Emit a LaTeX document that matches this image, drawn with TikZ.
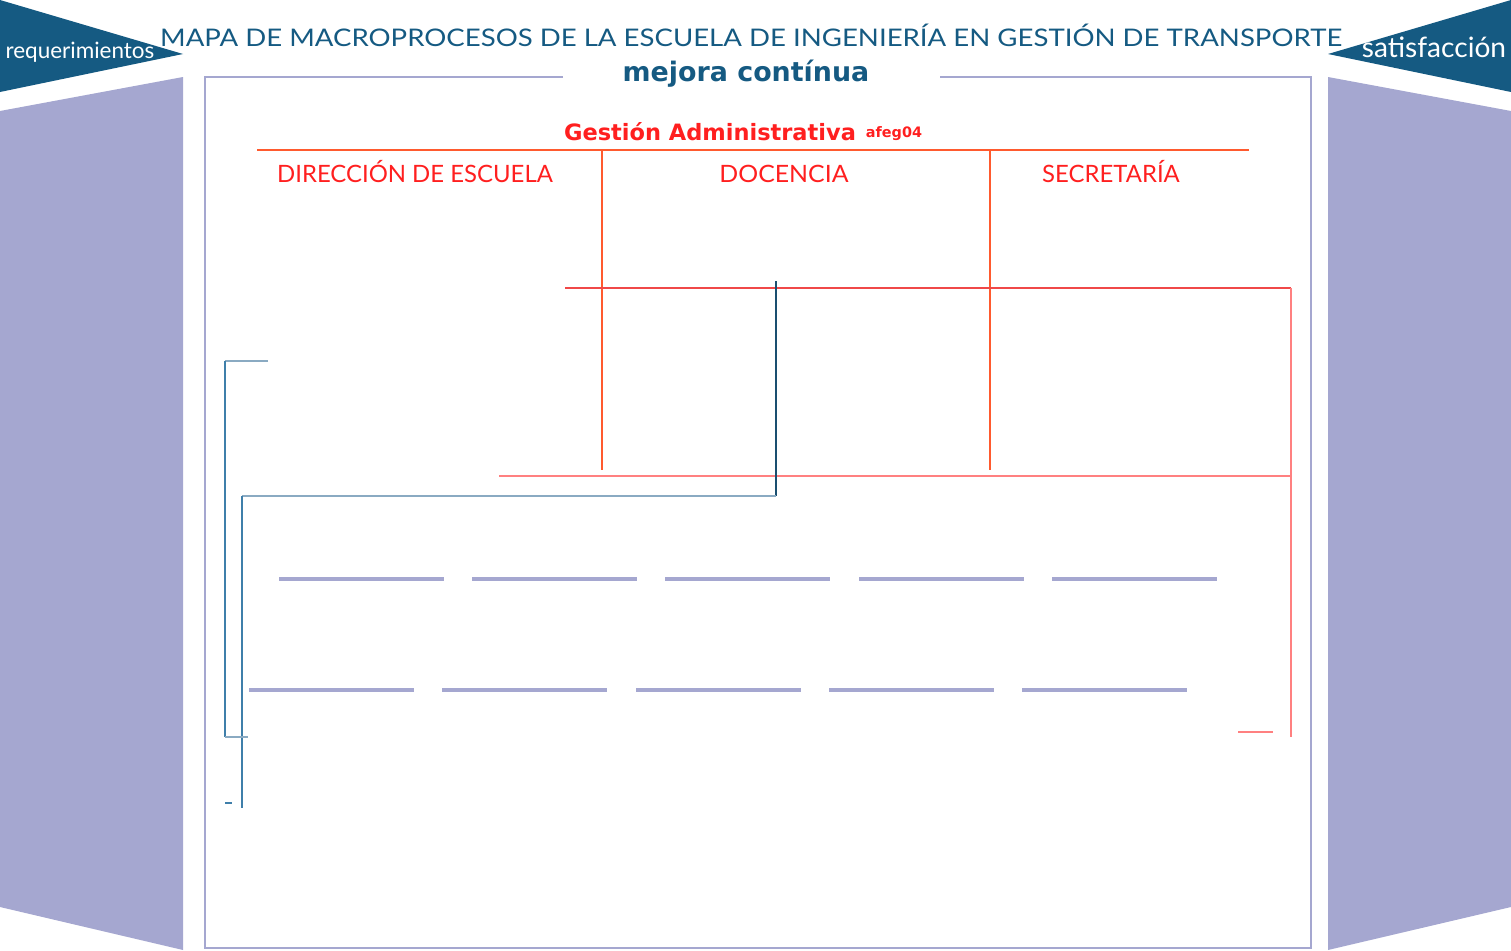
\documentclass[tikz,border=0pt]{standalone}
\usepackage{fontspec}
\setmainfont{Lato}
\newfontfamily\boldsans{DejaVu Sans}
\definecolor{azul}{HTML}{155A82}
\definecolor{lila}{HTML}{A5A7D0}
\definecolor{rojo}{HTML}{FF1F1F}
\definecolor{naranja}{HTML}{FF5A2E}
\definecolor{rojolinea}{HTML}{F04848}
\definecolor{rojoclaro}{HTML}{FF8080}
\definecolor{azuloscuro}{HTML}{1A4F70}
\definecolor{azulmedio}{HTML}{3F7FAA}
\definecolor{azulclaro}{HTML}{8AAAC2}
\tikzset{
  titulo/.style={text=azul,inner sep=0pt,anchor=base,font=\fontsize{13.8}{16}\selectfont},
  blanco/.style={text=white,inner sep=0pt,anchor=base},
  area/.style={text=rojo,inner sep=0pt,anchor=base,font=\fontsize{13.6}{16}\selectfont},
  barra/.style={lila,line width=2.3pt}
}
\begin{document}
\begin{tikzpicture}[x=0.02cm,y=-0.02cm]
\useasboundingbox (0,0) rectangle (1511,950);

% flechas de los lados
\fill[azul] (0,0) -- (183,54) -- (0,92) -- cycle;
\fill[azul] (1511,0) -- (1328,54) -- (1511,92) -- cycle;
\fill[lila] (0,111) -- (183,77) -- (183,950) -- (0,907) -- cycle;
\fill[lila] (1511,111) -- (1328,77) -- (1328,950) -- (1511,907) -- cycle;

\node[blanco,font=\fontsize{12.8}{15}\selectfont] (req) at (80,58) {requerimientos};
\node[blanco,font=\fontsize{16}{18}\selectfont] (sat) at (1434,57) {satisfacción};
\node[titulo] (tit) at (751,46) {\scalebox{1.137}[1]{MAPA DE MACROPROCESOS DE LA ESCUELA DE INGENIERÍA EN GESTIÓN DE TRANSPORTE}};

% marco
\draw[lila,line width=0.6pt] (563,77) -- (205,77) -- (205,948) -- (1311,948) -- (1311,77) -- (940,77);
\node[text=azul,inner sep=0pt,anchor=base,font=\boldsans\bfseries\fontsize{15.3}{17}\selectfont] (mejora) at (746,81) {mejora contínua};

% gestion administrativa
\node[text=rojo,inner sep=0pt,anchor=base,font=\boldsans\bfseries\fontsize{12.8}{15}\selectfont] (gestion) at (710,140) {Gestión Administrativa};
\node[text=rojo,inner sep=0pt,anchor=base,font=\boldsans\bfseries\fontsize{8.2}{10}\selectfont] (afeg) at (894,137) {afeg04};
\node[area] (dir) at (415,182) {DIRECCIÓN DE ESCUELA};
\node[area] (doc) at (784,182) {\scalebox{1.04}[1]{DOCENCIA}};
\node[area] (sec) at (1111,182) {SECRETARÍA};

\coordinate (g1) at (257,150);
\coordinate (g2) at (1249,150);
\draw[naranja,line width=1.1pt] (g1) -- (g2);
\draw[naranja,line width=1pt] (602,150) -- (602,470);
\draw[naranja,line width=1pt] (990,150) -- (990,470);
\draw[rojolinea,line width=0.9pt] (565,288) -- (1291,288);
\draw[rojoclaro,line width=0.9pt] (1291,288) -- (1291,737);
\draw[rojoclaro,line width=0.9pt] (499,476) -- (1291,476);
\draw[rojoclaro,line width=1pt] (1238,732) -- (1273,732);

% lineas azules
\draw[azuloscuro,line width=0.8pt] (776,281) -- (776,496);
\draw[azulclaro,line width=0.9pt] (776,496) -- (242,496);
\draw[azulmedio,line width=0.9pt] (242,496) -- (242,808);
\draw[azulclaro,line width=0.9pt] (268,361) -- (225,361);
\draw[azulmedio,line width=0.9pt] (225,361) -- (225,737);
\draw[azulclaro,line width=0.9pt] (225,737) -- (248,737);
\draw[azulmedio,line width=0.9pt] (225,803) -- (232,803);

% barras
\foreach \x in {279,472,665,859,1052} \draw[barra] (\x,579) -- ++(165,0);
\foreach \x in {249,442,636,829,1022} \draw[barra] (\x,690) -- ++(165,0);
\end{tikzpicture}
\end{document}
